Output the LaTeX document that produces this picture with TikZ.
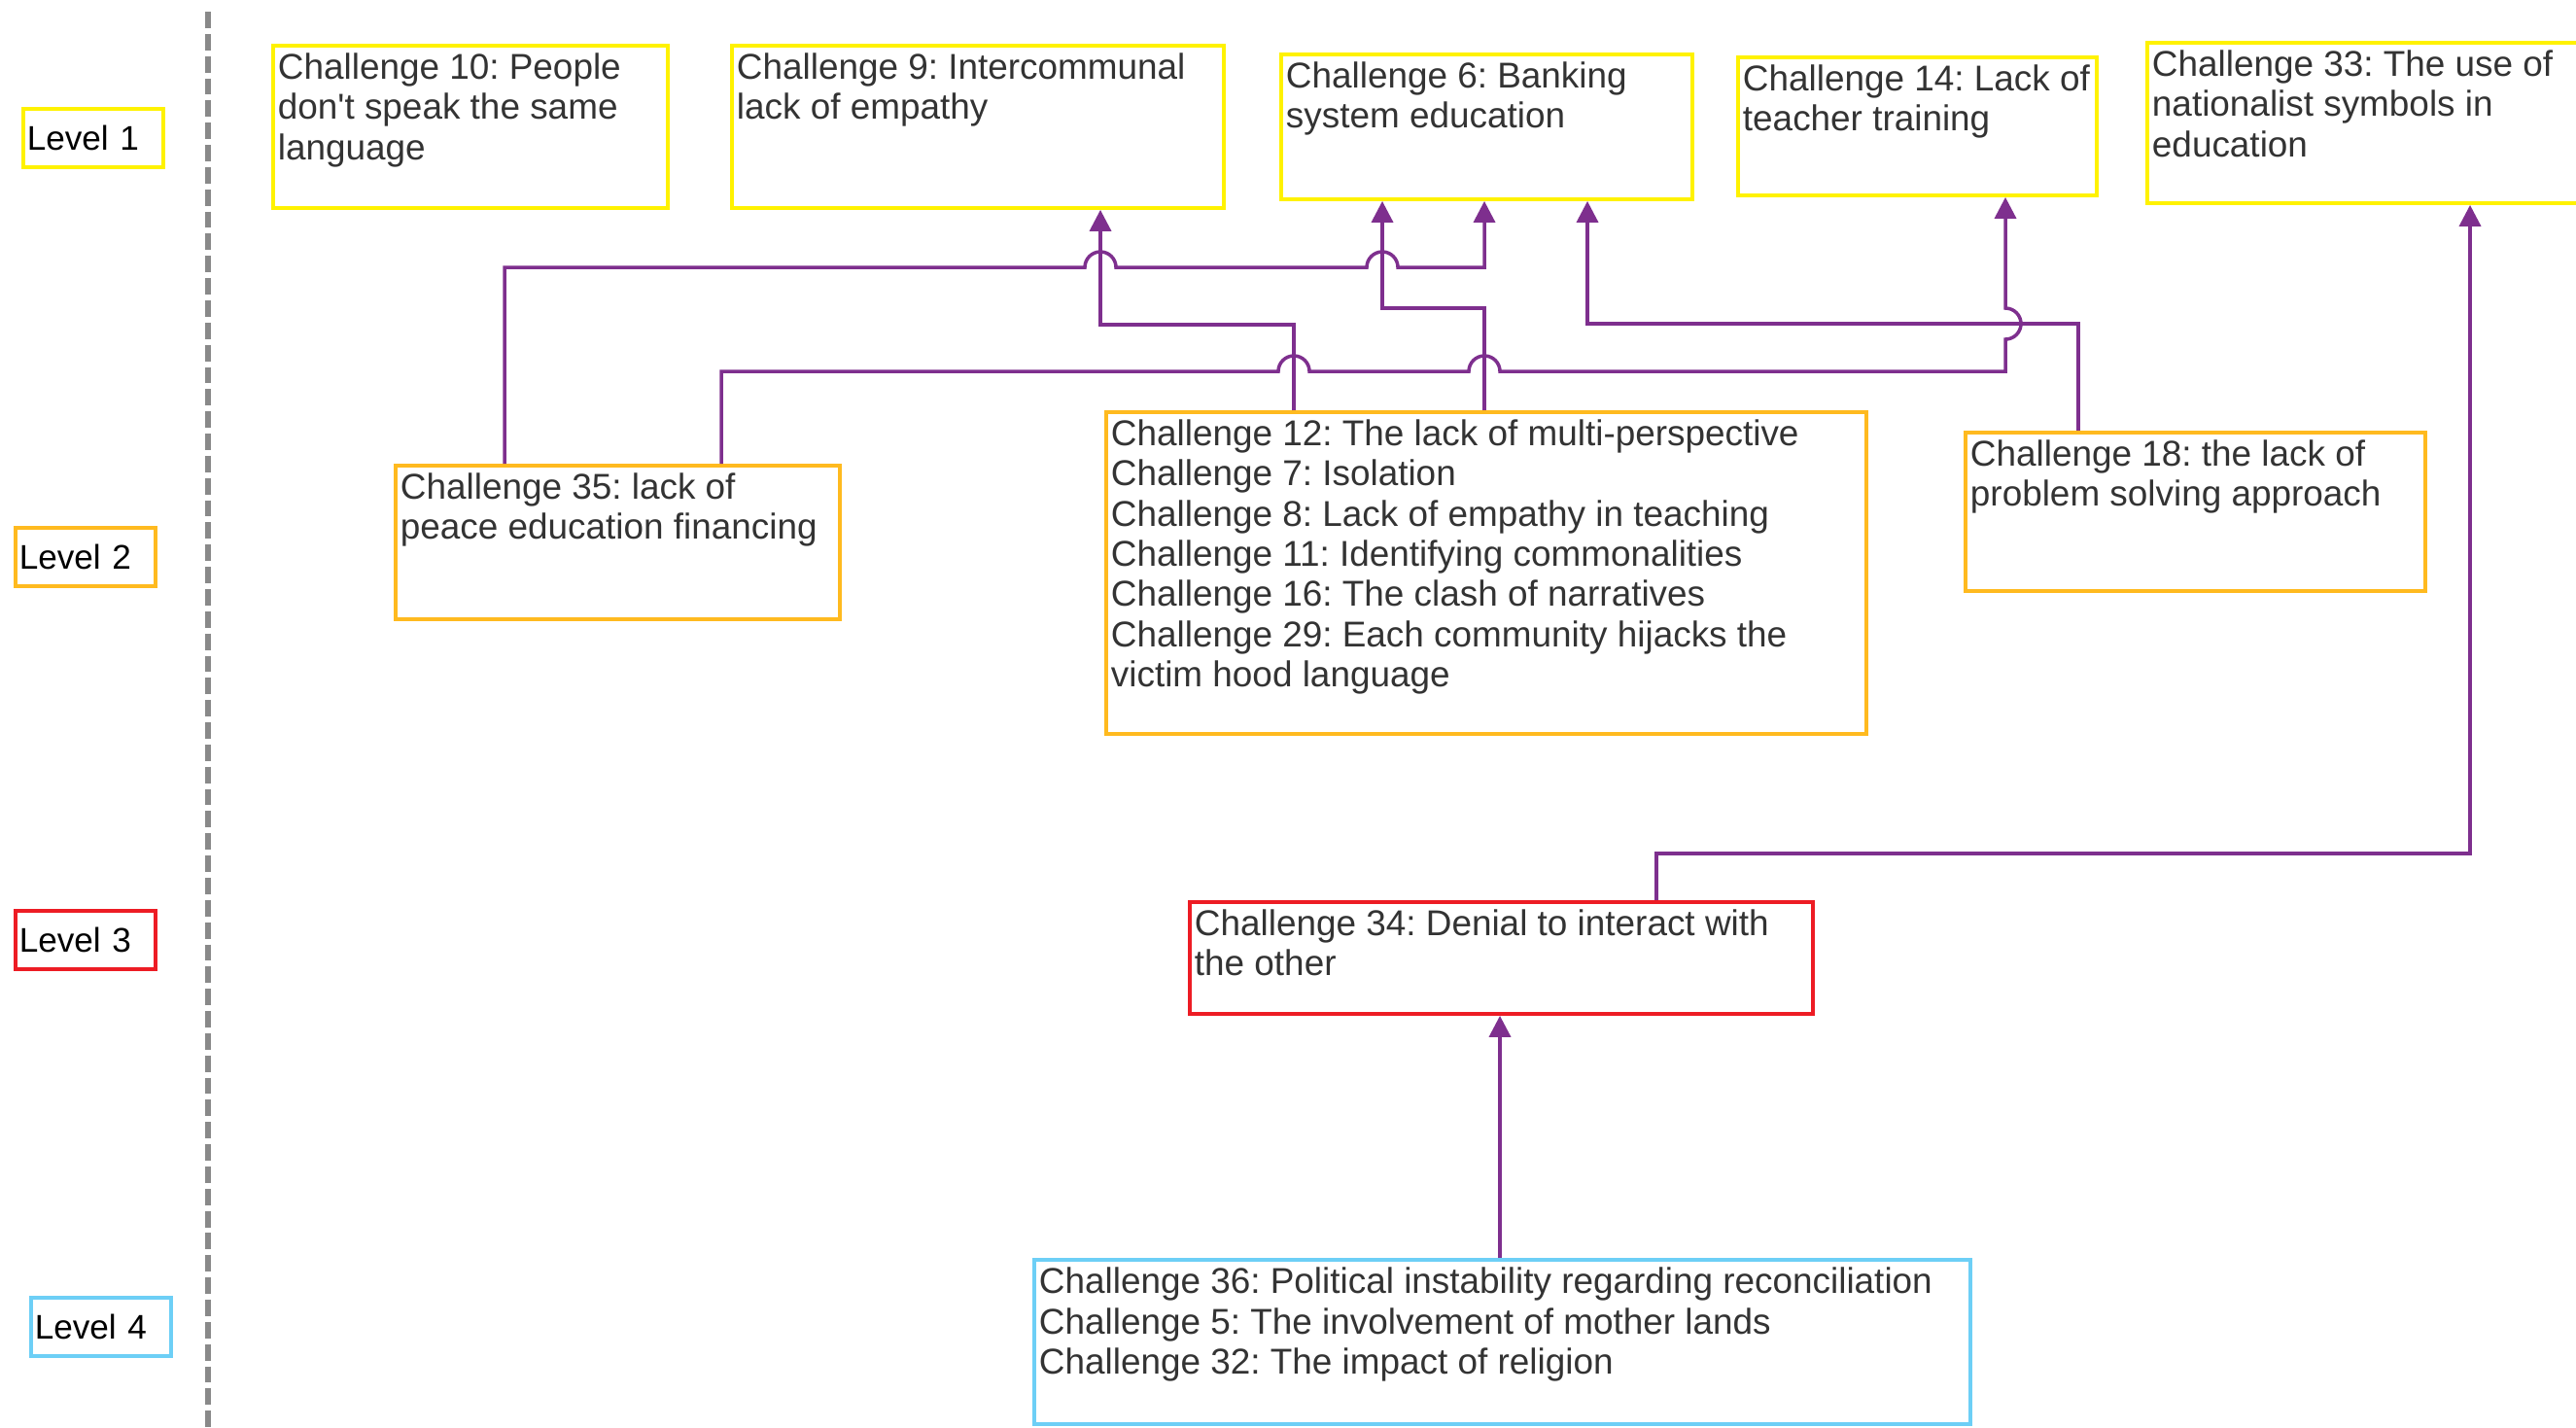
\documentclass[tikz,border=0pt]{standalone}
\usepackage{fontspec}
\setmainfont{Liberation Sans}
\usepackage{tikz}
\usetikzlibrary{arrows.meta}
\definecolor{yel}{HTML}{FFF200}
\definecolor{orng}{HTML}{FFBA1F}
\definecolor{redc}{HTML}{ED1C24}
\definecolor{sky}{HTML}{6DCFF6}
\definecolor{purp}{HTML}{7E2F8E}
\definecolor{txt}{HTML}{333333}
\definecolor{sepgray}{HTML}{898989}
\newcommand{\chfont}{\fontsize{10.5pt}{11.75pt}\selectfont}
\newcommand{\lvfont}{\fontsize{10pt}{12pt}\selectfont}
\frenchspacing

\begin{document}
\begin{tikzpicture}[
  chal/.style={draw=#1,line width=1.1pt,anchor=north west,inner xsep=.05cm,inner ysep=.08cm,font=\chfont,text=txt},
  lvl/.style={draw=#1,line width=1pt,anchor=north west,minimum height=.6cm,text width=1.36cm,align=left,inner xsep=.04cm,font=\lvfont},
  link/.style={draw=purp,line width=1pt,-{Triangle[length=.22cm,width=.22cm]}}]
\useasboundingbox (0,0) rectangle (26.5,-14.68);
% level markers
\node[lvl=yel] (lv1) at (.22,-1.10){Level 1};
\node[lvl=orng] (lv2) at (.14,-5.41){Level 2};
\node[lvl=redc] (lv3) at (.14,-9.35){Level 3};
\node[lvl=sky] (lv4) at (.30,-13.33){Level 4};
\draw[sepgray,line width=1.7pt,dash pattern=on 4.8pt off 1.7pt] (2.14,-.12)--(2.14,-14.68);
% level 1
\node[chal=yel] (c10) at (2.79,-.45){\parbox[c][1.51cm][t]{3.96cm}{Challenge 10: People\\don\textquotesingle t speak the same\\language}};
\node[chal=yel] (c9) at (7.51,-.45){\parbox[c][1.51cm][t]{4.96cm}{Challenge 9: Intercommunal\\lack of empathy}};
\node[chal=yel] (c6) at (13.16,-.54){\parbox[c][1.33cm][t]{4.13cm}{Challenge 6: Banking\\system education}};
\node[chal=yel] (c14) at (17.86,-.57){\parbox[c][1.26cm][t]{3.59cm}{Challenge 14: Lack of\\teacher training}};
\node[chal=yel] (c33) at (22.07,-.42){\parbox[c][1.49cm][t]{4.7cm}{Challenge 33: The use of\\nationalist symbols in\\education}};
% level 2
\node[chal=orng] (c35) at (4.05,-4.77){\parbox[c][1.42cm][t]{4.47cm}{Challenge 35: lack of\\peace education financing}};
\node[chal=orng] (c12) at (11.36,-4.22){\parbox[c][3.15cm][t]{7.72cm}{Challenge 12: The lack of multi-perspective\\Challenge 7: Isolation\\Challenge 8: Lack of empathy in teaching\\Challenge 11: Identifying commonalities\\Challenge 16: The clash of narratives\\Challenge 29: Each community hijacks the\\victim hood language}};
\node[chal=orng] (c18) at (20.20,-4.43){\parbox[c][1.47cm][t]{4.63cm}{Challenge 18: the lack of\\problem solving approach}};
% level 3
\node[chal=redc] (c34) at (12.22,-9.26){\parbox[c][.99cm][t]{6.31cm}{Challenge 34: Denial to interact with\\the other}};
% level 4
\node[chal=sky] (c36) at (10.62,-12.94){\parbox[c][1.53cm][t]{9.53cm}{Challenge 36: Political instability regarding reconciliation\\Challenge 5: The involvement of mother lands\\Challenge 32: The impact of religion}};
% links
\draw[link] (c35.north -| 5.19,0) -- (5.19,-2.75) -- (11.16,-2.75) arc[start angle=180,end angle=0,radius=.16]
  -- (14.06,-2.75) arc[start angle=180,end angle=0,radius=.16] -- (15.27,-2.75) -- (c6.south -| 15.27,0);
\draw[link] (c35.north -| 7.42,0) -- (7.42,-3.82) -- (13.15,-3.82) arc[start angle=180,end angle=0,radius=.16]
  -- (15.11,-3.82) arc[start angle=180,end angle=0,radius=.16] -- (20.63,-3.82) -- (20.63,-3.49)
  arc[start angle=-90,end angle=90,radius=.16] -- (c14.south -| 20.63,0);
\draw[link] (c12.north -| 13.31,0) -- (13.31,-3.34) -- (11.32,-3.34) -- (c9.south -| 11.32,0);
\draw[link] (c12.north -| 15.27,0) -- (15.27,-3.17) -- (14.22,-3.17) -- (c6.south -| 14.22,0);
\draw[link] (c18.north -| 21.38,0) -- (21.38,-3.33) -- (16.33,-3.33) -- (c6.south -| 16.33,0);
\draw[link] (c34.north -| 17.04,0) |- (25.41,-8.78) -- (c33.south -| 25.41,0);
\draw[link] (c36.north -| 15.43,0) -- (c34.south -| 15.43,0);
\end{tikzpicture}
\end{document}
